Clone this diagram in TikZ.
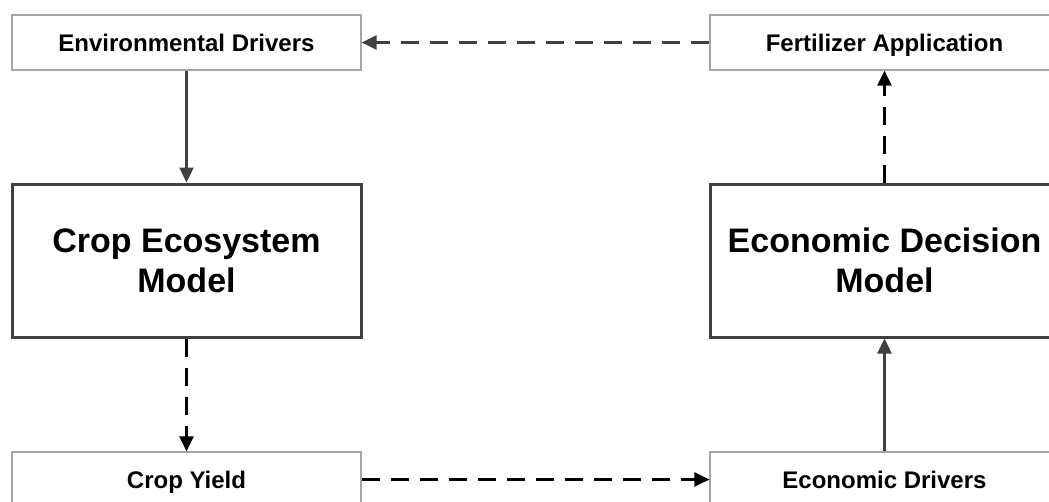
\documentclass[tikz,border=0pt]{standalone}
\usepackage{fontspec}
\setmainfont{Liberation Sans}
\usetikzlibrary{arrows.meta}
\definecolor{boxgray}{HTML}{A6A6A6}
\definecolor{darkline}{HTML}{404040}
\begin{document}
\begin{tikzpicture}[x=1pt,y=1pt,
    smallbox/.style={draw=boxgray,line width=1.2pt,minimum width=349pt,minimum height=55pt,inner sep=0pt,
        text height=22pt,text depth=4.8pt,font=\fontsize{24}{28}\selectfont\bfseries},
    modelbox/.style={draw=darkline,line width=3pt,minimum width=349pt,minimum height=153pt,inner sep=0pt,
        align=center,font=\fontsize{34}{40}\selectfont\bfseries},
    solidarr/.style={darkline,line width=2.4pt,-{Triangle[length=15pt,width=14pt]}},
    dasharr/.style={black,line width=2.4pt,dash pattern=on 18pt off 11pt,-{Triangle[length=15pt,width=14pt]}}]
    \useasboundingbox (0,0) rectangle (1049,-501);
    \fill[white] (0,0) rectangle (1049,-501);

    \node[smallbox] (env) at (186.5,-42.5) {Environmental Drivers};
    \node[modelbox] (crop) at (186.5,-260.5) {Crop Ecosystem\\Model};
    \node[smallbox] (yield) at (186.5,-479.5) {Crop Yield};

    \node[smallbox] (fert) at (884.5,-42.5) {Fertilizer Application};
    \node[modelbox] (econ) at (884.5,-260.5) {Economic Decision\\Model};
    \node[smallbox] (drivers) at (884.5,-479.5) {Economic Drivers};

    \draw[solidarr] (env) -- (crop);
    \draw[dasharr] (crop) -- (yield);
    \draw[dasharr] (yield) -- (drivers);
    \draw[solidarr] (drivers) -- (econ);
    \draw[dasharr] (econ) -- (fert);
    \draw[dasharr,darkline] (fert) -- (env);
\end{tikzpicture}
\end{document}
